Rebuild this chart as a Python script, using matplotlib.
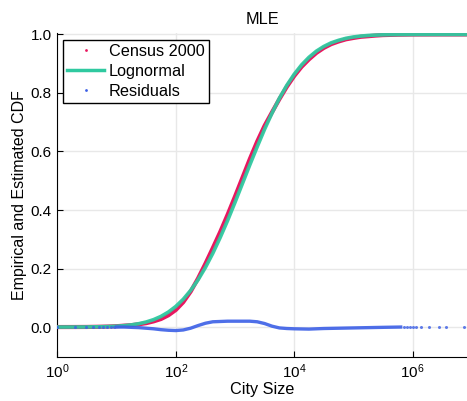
import matplotlib
matplotlib.use("Agg")
import matplotlib.pyplot as plt
from matplotlib.lines import Line2D
import numpy as np

plt.rcParams['font.family'] = ['Liberation Sans', 'DejaVu Sans']
plt.rcParams['mathtext.default'] = 'regular'

# log10 of city size
log_size = [0.0, 0.25, 0.5, 0.75, 0.875, 1.0, 1.125, 1.25, 1.375, 1.5, 1.625,
            1.75, 1.875, 2.0, 2.125, 2.25, 2.375, 2.5, 2.625, 2.75, 2.875, 3.0,
            3.125, 3.25, 3.375, 3.5, 3.625, 3.75, 3.875, 4.0, 4.125, 4.25,
            4.375, 4.5, 4.625, 4.75, 4.875, 5.0, 5.125, 5.25, 5.375, 5.5,
            5.75, 6.0, 6.5, 6.92]
census_cdf = [0.0000, 0.0001, 0.0003, 0.0011, 0.0018, 0.0029, 0.0047, 0.0064,
              0.0095, 0.0133, 0.0194, 0.0275, 0.0403, 0.0585, 0.0849, 0.121,
              0.166, 0.2165, 0.270, 0.325, 0.384, 0.446, 0.510, 0.574, 0.634,
              0.688, 0.734, 0.779, 0.821, 0.858, 0.8895, 0.915, 0.937, 0.954,
              0.967, 0.976, 0.9834, 0.988, 0.9920, 0.994, 0.9962, 0.9978,
              0.9992, 0.9998, 1.0, 1.0]
lognormal_cdf = [0.0000, 0.0001, 0.0003, 0.0011, 0.0018, 0.0029, 0.0047, 0.0074,
                 0.0115, 0.0173, 0.0254, 0.0365, 0.0513, 0.0705, 0.0949, 0.125,
                 0.161, 0.2035, 0.252, 0.306, 0.364, 0.426, 0.490, 0.554, 0.616,
                 0.676, 0.731, 0.782, 0.826, 0.864, 0.896, 0.922, 0.943, 0.959,
                 0.9714, 0.980, 0.9869, 0.9914, 0.9945, 0.9966, 0.9979, 0.9988,
                 0.9996, 0.9999, 1.0, 1.0]

# residuals over the dense part
res_log_size = [1.0, 1.125, 1.25, 1.375, 1.5, 1.625, 1.75, 1.875, 2.0, 2.125,
                2.25, 2.375, 2.5, 2.625, 2.75, 2.875, 3.0, 3.125, 3.25, 3.375,
                3.5, 3.625, 3.75, 3.875, 4.0, 4.25, 4.5, 4.75, 5.0, 5.25, 5.5,
                5.8]
residuals = [0.000, 0.000, -0.001, -0.002, -0.004, -0.006, -0.009, -0.011,
             -0.012, -0.010, -0.004, 0.005, 0.013, 0.018, 0.019, 0.020, 0.020,
             0.020, 0.020, 0.018, 0.012, 0.003, -0.003, -0.005, -0.006, -0.007,
             -0.005, -0.004, -0.003, -0.002, -0.001, 0.000]
# sparse tails (small and very large places)
tail_log_size = [0.0, 0.301, 0.477, 0.602, 0.699, 0.778, 0.845, 0.903, 0.954,
                 5.85, 5.9, 5.95, 6.0, 6.06, 6.15, 6.28, 6.45, 6.57, 6.87]
tail_residuals = [0.0] * len(tail_log_size)

pink = '#e8175f'
teal = '#2fc9a0'
blue = '#3b5fe6'

fig = plt.figure(figsize=(4.67, 4.01), dpi=100)
ax = fig.add_axes([0.123, 0.11, 0.877, 0.807])

size = 10 ** np.array(log_size)
ax.plot(size, census_cdf, color=pink, lw=3.0, solid_capstyle='round', zorder=3)
ax.plot(size, lognormal_cdf, color=teal, lw=2.6, alpha=0.95, zorder=4)
ax.plot(10 ** np.array(res_log_size), residuals, color=blue, lw=2.4, alpha=0.9, zorder=5)
ax.plot(10 ** np.array(tail_log_size), tail_residuals, ls='none', marker='o',
        ms=2.2, mec='none', color=blue, alpha=0.8, zorder=5)

ax.set_xscale('log')
ax.set_xlim(1, 10 ** 6.92)
ax.set_ylim(-0.102, 1.004)
ax.set_xticks([1, 1e2, 1e4, 1e6])
ax.minorticks_off()
ax.set_yticks([0.0, 0.2, 0.4, 0.6, 0.8, 1.0])
ax.set_yticklabels(['0.0', '0.2', '0.4', '0.6', '0.8', '1.0'])
ax.grid(True, color='#e8e8e8', lw=1.0)
ax.set_axisbelow(True)
for s in ['top', 'right']:
    ax.spines[s].set_visible(False)
ax.tick_params(direction='in', length=4, labelsize=11, pad=4)

ax.set_title('MLE', fontsize=11.7, pad=7)
ax.set_xlabel('City Size', fontsize=11.7, labelpad=1)
ax.set_ylabel('Empirical and Estimated CDF', fontsize=11.5, labelpad=3)

handles = [Line2D([], [], ls='none', marker='o', ms=2, mec='none', color=pink),
           Line2D([], [], color=teal, lw=2.5),
           Line2D([], [], ls='none', marker='o', ms=2, mec='none', color=blue)]
leg = ax.legend(handles, ['Census 2000', 'Lognormal', 'Residuals'],
                loc='upper left', bbox_to_anchor=(0.013, 0.979), fontsize=11.7,
                frameon=True, fancybox=False, framealpha=1, borderpad=0.25,
                labelspacing=0.3, handlelength=2.3, handletextpad=0.3,
                borderaxespad=0)
leg.get_frame().set_edgecolor('black')
leg.get_frame().set_linewidth(1.0)

fig.savefig('out.png', dpi=100)
